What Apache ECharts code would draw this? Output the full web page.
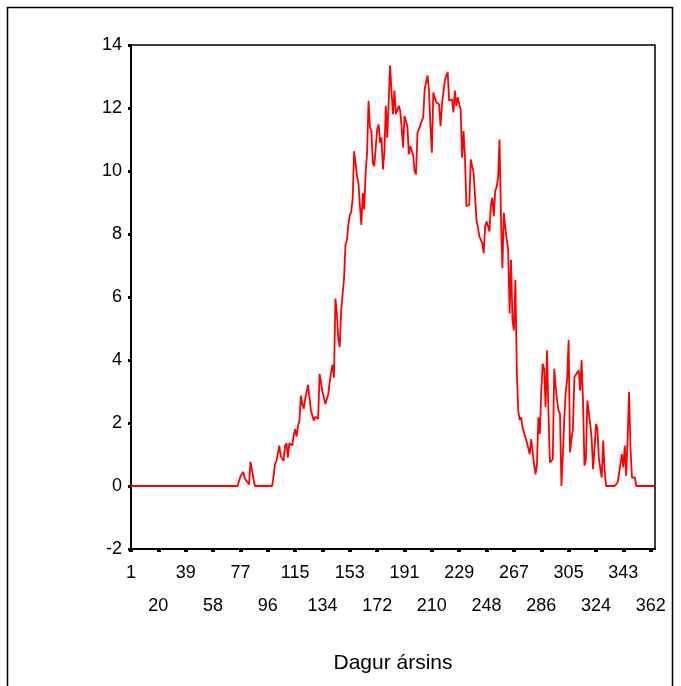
<!DOCTYPE html>
<html>
<head>
<meta charset="utf-8">
<script src="https://cdn.jsdelivr.net/npm/echarts@6/dist/echarts.min.js"></script>
<style>
  html, body { margin: 0; padding: 0; background: #fff; }
  #main { width: 681px; height: 686px; }
</style>
</head>
<body>
<div id="main"></div>
<script>
// dagar 1..365
var days = [];
for (var d = 1; d <= 365; d++) days.push(d);

// merktir dagar á x-ás (efri og neðri röð)
var dayTicks = [1, 20, 39, 58, 77, 96, 115, 134, 153, 172, 191, 210, 229, 248, 267, 286, 305, 324, 343, 362];
var topRow = [1, 39, 77, 115, 153, 191, 229, 267, 305, 343];
var bottomRow = [20, 58, 96, 134, 172, 210, 248, 286, 324, 362];

// gildi fyrir hvern dag, lesin af myndinni
var values = [
  0, 0, 0, 0, 0, 0, 0, 0, 0, 0,
  0, 0, 0, 0, 0, 0, 0, 0, 0, 0,
  0, 0, 0, 0, 0, 0.06, 0, 0, 0, 0,
  0, 0, 0, 0, 0, 0, 0, 0, 0, 0,
  0, 0, 0, 0, 0, 0, 0, 0, 0, 0,
  0, 0, 0, 0, 0, 0, 0, 0, 0, 0,
  0, 0, 0, 0, 0, 0, 0, 0, 0, 0,
  0, 0, 0, 0, 0, 0.15, 0.3, 0.35, 0.45, 0.24,
  0.22, 0.12, 0.05, 0.77, 0.5, 0.25, 0, 0, 0, 0,
  0, 0, 0, 0, 0, 0, 0, 0, 0, 0.3,
  0.7, 0.78, 0.8, 1.28, 0.95, 0.87, 0.8, 1.28, 1.36, 0.9,
  1.36, 1.3, 1.28, 1.6, 1.8, 1.57, 1.9, 2.07, 2.87, 2.6,
  2.45, 2.77, 2.82, 3.21, 2.8, 2.4, 2.35, 2.07, 2.2, 2.23,
  2.13, 3.56, 3.3, 3.0, 2.8, 2.6, 2.56, 2.9, 3.3, 3.6,
  3.85, 3.44, 5.95, 5.5, 4.68, 4.41, 5.58, 5.58, 6.6, 7.66,
  7.8, 8.3, 8.61, 8.7, 9.14, 10.63, 10.65, 9.84, 9.62, 8.9,
  8.29, 9.3, 8.77, 9.94, 10.58, 12.23, 11.38, 11.27, 10.26, 10.15,
  10.1, 11.32, 11.48, 10.9, 11.06, 10.05, 10.58, 12.07, 11.06, 12.2,
  13.35, 12.49, 11.8, 12.55, 11.8, 11.86, 12.07, 11.91, 11.38, 10.74,
  11.75, 11.8, 11.43, 10.53, 10.79, 10.79, 10.5, 10.0, 9.89, 11.22,
  11.27, 11.45, 11.59, 11.7, 12.6, 12.55, 13.03, 12.55, 11.43, 10.58,
  12.49, 12.44, 12.18, 12.23, 12.12, 11.43, 12.1, 12.49, 12.87, 13.03,
  13.13, 12.23, 12.18, 12.28, 11.86, 12.55, 12.07, 12.34, 12.12, 11.96,
  10.42, 11.27, 10.42, 8.88, 8.83, 8.93, 10.37, 10.39, 9.94, 9.94,
  8.45, 8.2, 7.92, 7.82, 7.71, 7.39, 8.24, 8.4, 8.25, 8.08,
  8.93, 9.15, 8.56, 9.36, 9.5, 9.78, 11.0, 8.56, 6.91, 8.67,
  8.2, 7.82, 7.5, 5.48, 7.18, 5.26, 4.94, 6.54, 3.67, 2.39,
  2.1, 2.18, 1.86, 1.7, 1.54, 1.38, 1.44, 1.01, 1.49, 1.44,
  0.69, 0.37, 0.69, 2.18, 1.65, 3.0, 3.88, 3.72, 2.5, 4.31,
  2.34, 0.75, 0.8, 0.85, 3.72, 3.14, 2.7, 2.39, 2.29, 0,
  1.0, 2.13, 3.0, 3.4, 4.63, 1.07, 1.5, 1.81, 3.46, 3.51,
  3.6, 3.67, 3.03, 3.99, 2.71, 0.64, 0.85, 2.71, 2.66, 1.97,
  1.49, 0.53, 1.2, 1.97, 1.81, 0.85, 0.85, 0.27, 1.44, 0.5,
  0, 0, 0, 0, 0, 0, 0, 0, 0.11, 0.4,
  0.69, 1.01, 0.59, 1.28, 0.32, 1.54, 2.98, 1.17, 0.27, 0.21,
  0.27, 0, 0, 0, 0, 0, 0, 0, 0, 0,
  0, 0, 0, 0, 0
];

var xTitle = 'Dagur ársins';
var font = 'Liberation Sans, Arial, sans-serif';
var labelFont = { fontFamily: font, fontSize: 18, color: '#000', lineHeight: 33 };

var seriesData = days.map(function (d, i) { return [d, values[i]]; });

var chart = echarts.init(document.getElementById('main'));
chart.setOption({
  animation: false,
  backgroundColor: '#fff',
  graphic: [{
    type: 'rect',
    shape: { x: 7.5, y: 7.5, width: 665, height: 700 },
    style: { fill: 'none', stroke: '#000', lineWidth: 1.5 }
  }],
  grid: {
    left: 131, right: 26, top: 45, bottom: 137,
    show: true, borderColor: '#000', borderWidth: 1.5, backgroundColor: 'transparent'
  },
  xAxis: [{
    type: 'value',
    min: 1, max: 365,
    name: xTitle,
    nameLocation: 'middle',
    nameGap: 104,
    nameTextStyle: { fontFamily: font, fontSize: 21, color: '#000' },
    axisLine: { onZero: false, lineStyle: { color: '#000', width: 2 } },
    axisTick: { customValues: dayTicks, length: 3, lineStyle: { color: '#000', width: 4 } },
    axisLabel: Object.assign({
      customValues: topRow, showMinLabel: true, showMaxLabel: true, margin: 8
    }, labelFont),
    splitLine: { show: false }
  }, {
    type: 'value',
    position: 'bottom',
    min: 1, max: 365,
    axisLine: { show: false, onZero: false },
    axisTick: { show: false },
    axisLabel: Object.assign({
      customValues: bottomRow, showMinLabel: true, showMaxLabel: true, margin: 41
    }, labelFont),
    splitLine: { show: false }
  }],
  yAxis: {
    type: 'value',
    min: -2, max: 14, interval: 2,
    axisLine: { show: true, lineStyle: { color: '#000', width: 2 } },
    axisTick: { show: true, length: 3, lineStyle: { color: '#000', width: 3 } },
    axisLabel: { margin: 9, fontFamily: font, fontSize: 18, color: '#000' },
    splitLine: { show: false }
  },
  series: [{
    type: 'line',
    xAxisIndex: 0,
    data: seriesData,
    showSymbol: false,
    symbol: 'none',
    lineStyle: { color: '#ff0000', width: 1.8 },
    itemStyle: { color: '#ff0000' }
  }]
});
</script>
</body>
</html>
